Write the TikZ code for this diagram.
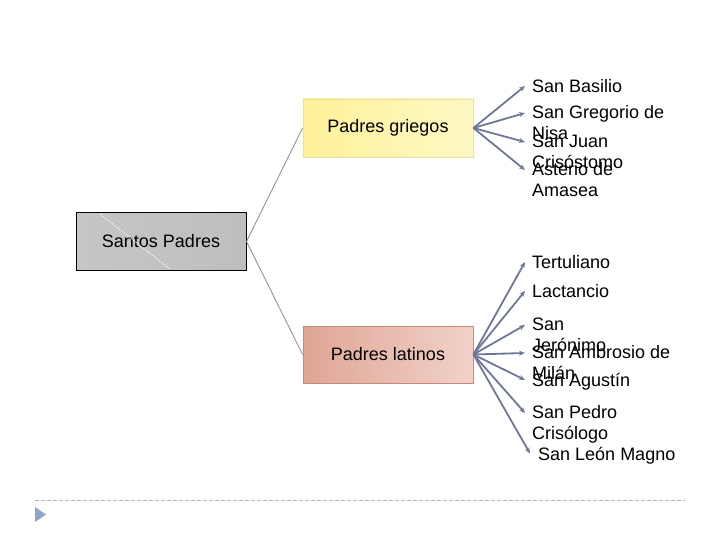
\documentclass[tikz,border=0pt]{standalone}
\usepackage{fontspec}
\setmainfont{Liberation Sans}
\usetikzlibrary{arrows.meta}
\definecolor{pdInk}{HTML}{000000}
\definecolor{pdLink}{HTML}{8A8A8A}
\definecolor{pdArrow}{HTML}{6E7896}
\definecolor{pdGrayA}{HTML}{C6C6C6}
\definecolor{pdGrayB}{HTML}{9E9E9E}
\definecolor{pdGrayC}{HTML}{BEBEBE}
\definecolor{pdYellowA}{HTML}{FFF29A}
\definecolor{pdYellowB}{HTML}{FFF7C4}
\definecolor{pdYellowLine}{HTML}{EADFA6}
\definecolor{pdRoseA}{HTML}{DFA595}
\definecolor{pdRoseB}{HTML}{F1D2C9}
\definecolor{pdRoseLine}{HTML}{C48A7C}
\definecolor{pdRule}{HTML}{A9B5C8}
\definecolor{pdMark}{HTML}{8EA6C9}
\tikzset{
  rootbox/.style={rectangle,minimum width=170pt,minimum height=57pt,
    inner sep=0pt,align=center,draw=pdInk,line width=1pt,
    left color=pdGrayA,middle color=pdGrayB,right color=pdGrayC,
    font=\fontsize{18pt}{21pt}\selectfont,text=pdInk},
  grbox/.style={rectangle,minimum width=170pt,minimum height=58pt,
    inner sep=0pt,align=center,draw=pdYellowLine,line width=0.8pt,
    left color=pdYellowA,right color=pdYellowB,
    font=\fontsize{18pt}{21pt}\selectfont,text=pdInk},
  labox/.style={rectangle,minimum width=170pt,minimum height=57pt,
    inner sep=0pt,align=center,draw=pdRoseLine,line width=0.8pt,
    left color=pdRoseA,right color=pdRoseB,
    font=\fontsize{18pt}{21pt}\selectfont,text=pdInk},
  leaf/.style={anchor=north west,inner sep=0pt,align=left,
    execute at begin node={\rule{0pt}{14pt}},
    font=\fontsize{18pt}{21pt}\selectfont,text=pdInk},
  arr/.style={-{Stealth[length=6pt,width=5pt]},line width=1.8pt,color=pdArrow},
  link/.style={line width=0.8pt,color=pdLink},
}
\begin{document}
\begin{tikzpicture}[x=1pt,y=-1pt]
  \useasboundingbox (0,0) rectangle (720,540);

  \node[rootbox] (santos) at (161,241.5) {Santos Padres};
  \draw[white,dash pattern=on 2pt off 1pt,line width=0.6pt] (100,214) -- (170,269);
  \node[grbox] (griegos) at (388,128) {Padres griegos};
  \node[labox] (latinos) at (388,354.5) {Padres latinos};

  \draw[link] (santos.east) -- (griegos.west);
  \draw[link] (santos.east) -- (latinos.west);

  % padres griegos
  \node[leaf] (basilio) at (532,78.5) {San Basilio};
  \node[leaf] (gregorio) at (532,105.5) {San Gregorio de\\Nisa};
  \node[leaf] (juan) at (532,134.5) {San Juan\\Crisóstomo};
  \node[leaf] (asterio) at (532,162.5) {Asterio de\\Amasea};

  \draw[arr] (griegos.east) -- ([shift={(-7pt,-7.5pt)}]basilio.north west);
  \draw[arr] (griegos.east) -- ([shift={(-7pt,-7.5pt)}]gregorio.north west);
  \draw[arr] (griegos.east) -- ([shift={(-7pt,-7.5pt)}]juan.north west);
  \draw[arr] (griegos.east) -- ([shift={(-7pt,-7.5pt)}]asterio.north west);

  % padres latinos
  \node[leaf] (tertuliano) at (532,254.5) {Tertuliano};
  \node[leaf] (lactancio) at (532,283.5) {Lactancio};
  \node[leaf] (jeronimo) at (532,317.5) {San\\Jerónimo};
  \node[leaf] (ambrosio) at (532,345.5) {San Ambrosio de\\Milán};
  \node[leaf] (agustin) at (532,372.5) {San Agustín};
  \node[leaf] (pedro) at (532,405.5) {San Pedro\\Crisólogo};
  \node[leaf] (leon) at (538,446) {San León Magno};

  \draw[arr] (latinos.east) -- ([shift={(-7pt,-7.5pt)}]tertuliano.north west);
  \draw[arr] (latinos.east) -- ([shift={(-7pt,-7.5pt)}]lactancio.north west);
  \draw[arr] (latinos.east) -- ([shift={(-7pt,-7.5pt)}]jeronimo.north west);
  \draw[arr] (latinos.east) -- ([shift={(-7pt,-7.5pt)}]ambrosio.north west);
  \draw[arr] (latinos.east) -- ([shift={(-7pt,-7.5pt)}]agustin.north west);
  \draw[arr] (latinos.east) -- ([shift={(-7pt,-7.5pt)}]pedro.north west);
  \draw[arr] (latinos.east) -- ([shift={(-8pt,-7.5pt)}]leon.north west);

  % pie de pagina
  \draw[pdRule,dash pattern=on 4pt off 2pt,line width=1pt] (35,500) -- (685,500);
  \fill[pdMark] (35,507) -- (46,514.5) -- (35,522) -- cycle;
\end{tikzpicture}
\end{document}
